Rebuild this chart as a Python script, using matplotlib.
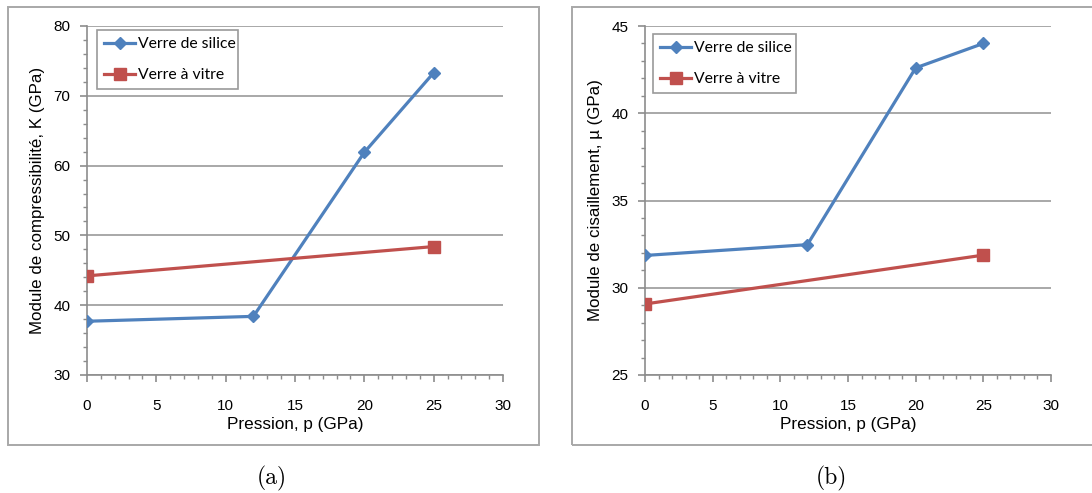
import matplotlib
matplotlib.use("Agg")
import matplotlib.pyplot as plt
from matplotlib.patches import Rectangle
from matplotlib.ticker import MultipleLocator

# Data
pressure_silice = [0, 12, 20, 25]
pressure_vitre = [0, 25]
K_silice = [37.7, 38.4, 61.9, 73.3]
K_vitre = [44.2, 48.4]
mu_silice = [31.85, 32.47, 42.6, 44.0]
mu_vitre = [29.07, 31.87]
label_silice = "Verre de silice"
label_vitre = "Verre à vitre"
xlabel = "Pression, p (GPa)"
ylabel_a = "Module de compressibilité, K (GPa)"
ylabel_b = "Module de cisaillement, µ (GPa)"

BLUE = "#4F81BD"
RED = "#C0504D"
GRID = "#9a9a9a"
AXC = "#8c8c8c"

W, H = 1092, 493
fig = plt.figure(figsize=(W / 100, H / 100), dpi=100)
fig.patch.set_facecolor("white")
plt.rcParams['font.family'] = ['Liberation Sans', 'DejaVu Sans']


def fx(px):
    return px / W


def fy(py):
    return 1 - py / H


# Frames
for x0, x1 in [(8, 539), (572, 1100)]:
    fig.patches.append(Rectangle((fx(x0), fy(445)), fx(x1) - fx(x0), fy(7) - fy(445),
                                 transform=fig.transFigure, fill=False,
                                 edgecolor="#a8a8a8", linewidth=1.4, clip_on=False))


def make_ax(left, right, ylim, ymajor, yminor, ys, yv, ylabel, legend_box, caption, capx):
    ax = fig.add_axes([fx(left), fy(375), fx(right) - fx(left), fy(26) - fy(375)])
    ax.plot(pressure_silice, ys, color=BLUE, lw=2.3, marker="D", ms=6.5,
            markerfacecolor=BLUE, markeredgecolor=BLUE, label=label_silice, zorder=3)
    ax.plot(pressure_vitre, yv, color=RED, lw=2.3, marker="s", ms=9,
            markerfacecolor=RED, markeredgecolor=RED, label=label_vitre, zorder=3)
    ax.set_xlim(0, 30)
    ax.set_ylim(*ylim)
    ax.xaxis.set_major_locator(MultipleLocator(5))
    ax.xaxis.set_minor_locator(MultipleLocator(1))
    ax.yaxis.set_major_locator(MultipleLocator(ymajor))
    ax.yaxis.set_minor_locator(MultipleLocator(yminor))
    for s in ["top", "right"]:
        ax.spines[s].set_visible(False)
    for s in ["left", "bottom"]:
        ax.spines[s].set_color(AXC)
        ax.spines[s].set_linewidth(1.2)
    ax.yaxis.grid(True, which="major", color=GRID, linewidth=1.2)
    ax.set_axisbelow(True)
    ax.tick_params(which="major", direction="out", length=5, width=1.2, color=AXC,
                   labelsize=11, labelcolor="black")
    ax.tick_params(which="minor", direction="out", length=3, width=1.0, color=AXC)
    ax.tick_params(axis="x", which="major", pad=12)
    ax.tick_params(axis="y", which="major", pad=7)
    ax.set_xlabel(xlabel, fontsize=12.3, labelpad=3)
    ax.set_ylabel(ylabel, fontsize=12.2, labelpad=6)
    ax.set_facecolor("white")
    # legend
    lx0, ly0, lx1, ly1 = legend_box
    leg = ax.legend(loc="upper left",
                    bbox_to_anchor=(fx(lx0), fy(ly1), fx(lx1) - fx(lx0), fy(ly0) - fy(ly1)),
                    bbox_transform=fig.transFigure, mode="expand",
                    fancybox=False, framealpha=1, edgecolor="#9a9a9a",
                    prop={"family": "Lato", "size": 11.3}, handlelength=2.0,
                    handletextpad=0.15, labelspacing=1.1, borderpad=0.45,
                    borderaxespad=0)
    leg.get_frame().set_linewidth(1.2)
    fig.text(fx(capx), fy(478), caption, fontname="cmr10", fontsize=17,
             ha="center", va="center")
    return ax


make_ax(87, 503, (30, 80), 10, 2, K_silice, K_vitre, ylabel_a,
        (97, 30, 238, 91), "(a)", 272)
make_ax(645, 1051, (25, 45), 5, 1, mu_silice, mu_vitre, ylabel_b,
        (653, 34, 796, 93), "(b)", 831)

fig.savefig("out.png", dpi=100)
